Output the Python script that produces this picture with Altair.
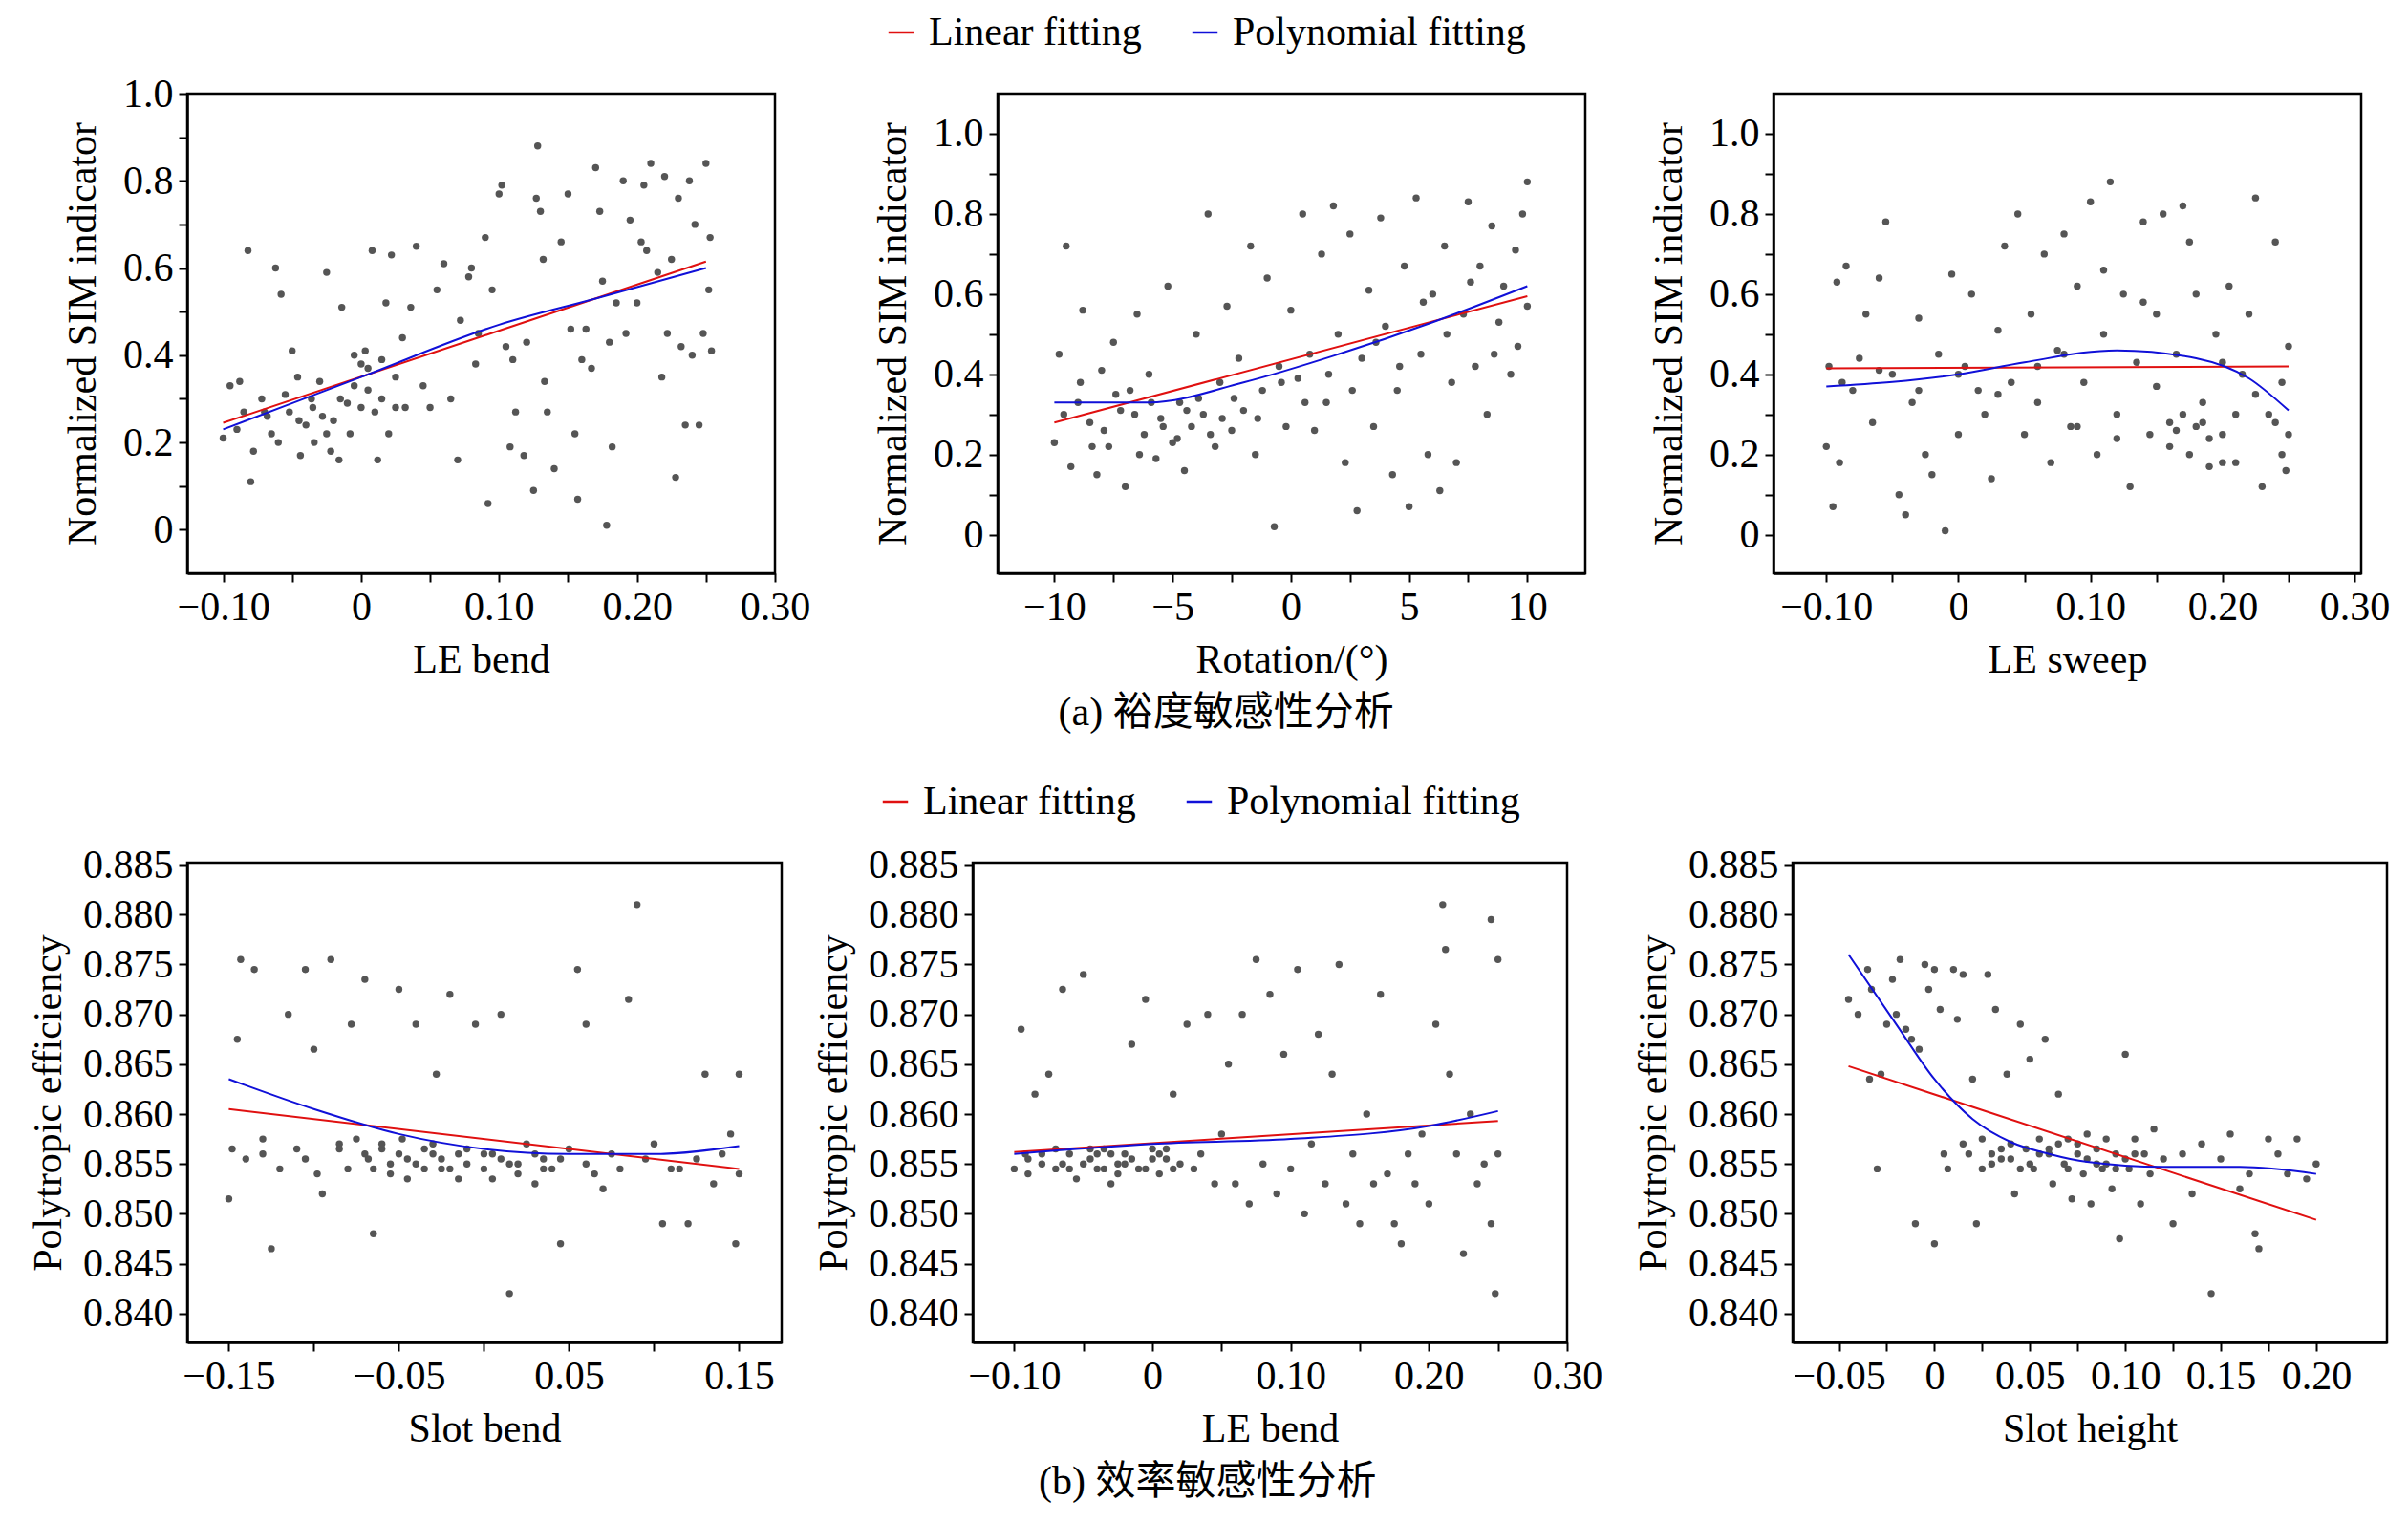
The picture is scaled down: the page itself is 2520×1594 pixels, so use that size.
import altair as alt
import pandas as pd

# ---------- data ----------
a1_pts = [(-0.10,0.21),(-0.095,0.33),(-0.09,0.23),(-0.088,0.34),(-0.082,0.64),(-0.08,0.11),(-0.078,0.18),(-0.072,0.30),(-0.068,0.26),(-0.062,0.60),(-0.06,0.20),(-0.058,0.54),(-0.052,0.27),(-0.05,0.41),(-0.046,0.35),(-0.044,0.17),(-0.04,0.24),(-0.036,0.30),(-0.034,0.20),(-0.03,0.34),(-0.028,0.26),(-0.025,0.59),(-0.022,0.18),(-0.02,0.25),(-0.016,0.16),(-0.014,0.51),(-0.01,0.29),(-0.008,0.22),(-0.005,0.40),(0,0.38),(0,0.28),(0.003,0.41),(0.005,0.32),(0.008,0.64),(0.01,0.27),(0.012,0.16),(0.015,0.39),(0.018,0.52),(0.02,0.22),(0.022,0.63),(0.025,0.35),(0.03,0.44),(0.032,0.28),(0.036,0.51),(0.04,0.65),(0.045,0.33),(0.05,0.28),(0.055,0.55),(0.06,0.61),(0.065,0.30),(0.07,0.16),(0.072,0.48),(0.078,0.58),(0.08,0.60),(0.083,0.38),(0.085,0.45),(0.09,0.67),(0.092,0.06),(0.095,0.55),(0.10,0.77),(0.102,0.79),(0.105,0.42),(0.108,0.19),(0.11,0.39),(0.112,0.27),(0.118,0.17),(0.12,0.43),(0.125,0.09),(0.127,0.76),(0.128,0.88),(0.13,0.73),(0.132,0.62),(0.133,0.34),(0.135,0.27),(0.14,0.14),(0.145,0.66),(0.15,0.77),(0.152,0.46),(0.155,0.22),(0.157,0.07),(0.16,0.39),(0.163,0.46),(0.167,0.37),(0.17,0.83),(0.173,0.73),(0.175,0.57),(0.178,0.01),(0.18,0.43),(0.182,0.19),(0.185,0.52),(0.19,0.80),(0.192,0.45),(0.195,0.71),(0.2,0.52),(0.203,0.66),(0.205,0.79),(0.207,0.64),(0.21,0.84),(0.215,0.59),(0.218,0.35),(0.22,0.81),(0.222,0.45),(0.225,0.62),(0.228,0.12),(0.23,0.76),(0.232,0.42),(0.235,0.24),(0.238,0.80),(0.24,0.40),(0.242,0.70),(0.245,0.24),(0.248,0.45),(0.25,0.84),(0.252,0.55),(0.253,0.67),(0.254,0.41),
(-0.07,0.27),(-0.055,0.31),(-0.045,0.25),(-0.035,0.28),(-0.025,0.22),(-0.015,0.30),(-0.005,0.33),(0.005,0.37),(0.015,0.30),(0.025,0.28),(-0.085,0.27),(-0.065,0.22)]
a1_lin = [(-0.10,0.245),(0.25,0.615)]
a1_poly = [(-0.10,0.23),(0.0,0.35),(0.10,0.47),(0.17,0.53),(0.25,0.60)]

a2_pts = [(-10,0.23),(-9.8,0.45),(-9.5,0.72),(-9.3,0.17),(-9,0.33),(-8.8,0.56),(-8.5,0.28),(-8.2,0.15),(-8,0.41),(-7.7,0.22),(-7.5,0.48),(-7.2,0.31),(-7,0.12),(-6.8,0.36),(-6.5,0.55),(-6.2,0.25),(-6,0.40),(-5.7,0.19),(-5.5,0.29),(-5.2,0.62),(-5,0.23),(-4.7,0.33),(-4.5,0.16),(-4.2,0.27),(-4,0.50),(-3.7,0.30),(-3.5,0.80),(-3.2,0.22),(-3,0.38),(-2.7,0.57),(-2.5,0.26),(-2.2,0.44),(-2,0.31),(-1.7,0.72),(-1.5,0.20),(-1.2,0.36),(-1,0.64),(-0.7,0.02),(-0.5,0.42),(-0.2,0.27),(0,0.56),(0.3,0.39),(0.5,0.80),(0.8,0.45),(1,0.26),(1.3,0.70),(1.5,0.33),(1.8,0.82),(2,0.50),(2.3,0.18),(2.5,0.75),(2.8,0.06),(3,0.44),(3.3,0.61),(3.5,0.27),(3.8,0.79),(4,0.52),(4.3,0.15),(4.5,0.36),(4.8,0.67),(5,0.07),(5.3,0.84),(5.5,0.45),(5.8,0.20),(6,0.60),(6.3,0.11),(6.5,0.72),(6.8,0.38),(7,0.18),(7.3,0.55),(7.5,0.83),(7.8,0.42),(8,0.67),(8.3,0.30),(8.5,0.77),(8.8,0.53),(9,0.62),(9.3,0.40),(9.5,0.71),(9.8,0.80),(10,0.57),(10,0.88),(9.6,0.47),(-6.6,0.30),(-5.9,0.33),(-4.8,0.24),(-3.9,0.34),(-2.9,0.29),(-8.9,0.38),(-7.9,0.26),(-9.6,0.30),(-8.4,0.22),(-7.4,0.35),(-6.4,0.20),(-5.4,0.27),(-4.4,0.31),(-3.4,0.25),(-2.4,0.34),(-1.4,0.29),(-0.4,0.38),(0.6,0.33),(1.6,0.40),(2.6,0.36),(3.6,0.48),(4.6,0.42),(5.6,0.58),(6.6,0.50),(7.6,0.63),(8.6,0.45)]
a2_lin = [(-10,0.28),(10,0.595)]
a2_poly = [(-10,0.33),(-6,0.33),(-2,0.38),(2,0.45),(6,0.53),(10,0.62)]

a3_pts = [(-0.10,0.22),(-0.098,0.42),(-0.095,0.07),(-0.092,0.63),(-0.09,0.18),(-0.085,0.67),(-0.08,0.36),(-0.075,0.44),(-0.07,0.55),(-0.065,0.28),(-0.06,0.64),(-0.055,0.78),(-0.05,0.40),(-0.045,0.10),(-0.04,0.05),(-0.035,0.33),(-0.03,0.54),(-0.025,0.20),(-0.02,0.15),(-0.015,0.45),(-0.01,0.01),(-0.005,0.65),(0,0.25),(0.005,0.42),(0.01,0.60),(0.015,0.36),(0.02,0.30),(0.025,0.14),(0.03,0.51),(0.035,0.72),(0.04,0.38),(0.045,0.80),(0.05,0.25),(0.055,0.55),(0.06,0.33),(0.065,0.70),(0.07,0.18),(0.075,0.46),(0.08,0.75),(0.085,0.27),(0.09,0.62),(0.095,0.38),(0.1,0.83),(0.105,0.20),(0.11,0.50),(0.115,0.88),(0.12,0.30),(0.125,0.60),(0.13,0.12),(0.135,0.43),(0.14,0.78),(0.145,0.25),(0.15,0.55),(0.155,0.80),(0.16,0.28),(0.165,0.45),(0.17,0.82),(0.175,0.20),(0.18,0.60),(0.185,0.33),(0.19,0.17),(0.195,0.50),(0.2,0.25),(0.205,0.62),(0.21,0.18),(0.215,0.40),(0.22,0.55),(0.225,0.84),(0.23,0.12),(0.235,0.30),(0.24,0.73),(0.245,0.20),(0.25,0.25),(0.25,0.47),(0.248,0.16),(0.18,0.27),(0.19,0.24),(0.2,0.18),(0.17,0.30),(0.16,0.22),
(-0.088,0.38),(-0.06,0.41),(-0.03,0.36),(0.0,0.40),(0.03,0.35),(0.06,0.42),(0.09,0.27),(0.12,0.24),(0.15,0.37),(0.165,0.26),(0.175,0.73),(0.185,0.28),(0.2,0.43),(0.21,0.30),(0.225,0.35),(0.24,0.28),(0.245,0.38),(0.14,0.58),(0.11,0.66),(0.08,0.45)]
a3_lin = [(-0.10,0.415),(0.25,0.42)]
a3_poly = [(-0.10,0.37),(0.0,0.40),(0.05,0.43),(0.12,0.46),(0.18,0.44),(0.22,0.39),(0.25,0.31)]

b1_pts = [(-0.15,0.8515),(-0.148,0.8565),(-0.145,0.8675),(-0.143,0.8755),(-0.14,0.8555),(-0.135,0.8745),(-0.13,0.8575),(-0.125,0.8465),(-0.12,0.8545),(-0.115,0.8700),(-0.11,0.8565),(-0.105,0.8745),(-0.1,0.8665),(-0.098,0.8540),(-0.095,0.8520),(-0.09,0.8755),(-0.085,0.8565),(-0.08,0.8545),(-0.078,0.8690),(-0.075,0.8575),(-0.07,0.8735),(-0.068,0.8555),(-0.065,0.8480),(-0.06,0.8565),(-0.055,0.8540),(-0.05,0.8725),(-0.048,0.8575),(-0.045,0.8555),(-0.04,0.8690),(-0.035,0.8545),(-0.03,0.8570),(-0.028,0.8640),(-0.025,0.8555),(-0.02,0.8720),(-0.015,0.8535),(-0.01,0.8565),(-0.005,0.8690),(0,0.8545),(0.005,0.8560),(0.01,0.8700),(0.015,0.8420),(0.02,0.8550),(0.025,0.8570),(0.03,0.8530),(0.035,0.8555),(0.04,0.8545),(0.045,0.8470),(0.05,0.8565),(0.055,0.8745),(0.06,0.8690),(0.065,0.8540),(0.07,0.8525),(0.075,0.8560),(0.08,0.8545),(0.085,0.8715),(0.09,0.8810),(0.095,0.8555),(0.1,0.8570),(0.105,0.8490),(0.11,0.8545),(0.115,0.8545),(0.12,0.8490),(0.125,0.8555),(0.13,0.8640),(0.135,0.8530),(0.14,0.8560),(0.145,0.8580),(0.148,0.8470),(0.15,0.8540),(0.15,0.8640),
(-0.06,0.8570),(-0.05,0.8560),(-0.04,0.8550),(-0.03,0.8560),(-0.02,0.8545),(-0.01,0.8550),(0.01,0.8555),(0.02,0.8540),(0.03,0.8560),(-0.07,0.8560),(-0.045,0.8535),(-0.035,0.8565),(-0.025,0.8545),(0.0,0.8560),(-0.055,0.8550),(-0.015,0.8560),(0.005,0.8535),(0.015,0.8550),(0.035,0.8545),(0.045,0.8555),(0.06,0.8550),(-0.065,0.8545),(-0.085,0.8570),(-0.105,0.8555),(-0.13,0.8560)]
b1_lin = [(-0.15,0.8605),(0.15,0.8545)]
b1_poly = [(-0.15,0.8635),(-0.10,0.8605),(-0.05,0.8580),(0.0,0.8565),(0.05,0.8560),(0.10,0.8560),(0.15,0.8568)]

b2_pts = [(-0.1,0.8545),(-0.095,0.8685),(-0.092,0.8560),(-0.09,0.8540),(-0.085,0.8620),(-0.08,0.8550),(-0.075,0.8640),(-0.07,0.8545),(-0.065,0.8725),(-0.06,0.8560),(-0.055,0.8535),(-0.05,0.8740),(-0.045,0.8555),(-0.04,0.8545),(-0.035,0.8565),(-0.03,0.8530),(-0.025,0.8550),(-0.02,0.8560),(-0.015,0.8670),(-0.01,0.8545),(-0.005,0.8715),(0,0.8555),(0.005,0.8540),(0.01,0.8565),(0.015,0.8620),(0.02,0.8550),(0.025,0.8690),(0.03,0.8545),(0.035,0.8560),(0.04,0.8700),(0.045,0.8530),(0.05,0.8580),(0.055,0.8650),(0.06,0.8530),(0.065,0.8700),(0.07,0.8510),(0.075,0.8755),(0.08,0.8550),(0.085,0.8720),(0.09,0.8520),(0.095,0.8660),(0.1,0.8545),(0.105,0.8745),(0.11,0.8500),(0.115,0.8570),(0.12,0.8680),(0.125,0.8530),(0.13,0.8640),(0.135,0.8750),(0.14,0.8510),(0.145,0.8560),(0.15,0.8490),(0.155,0.8600),(0.16,0.8530),(0.165,0.8720),(0.17,0.8540),(0.175,0.8490),(0.18,0.8470),(0.185,0.8560),(0.19,0.8530),(0.195,0.8580),(0.2,0.8510),(0.205,0.8690),(0.21,0.8810),(0.212,0.8765),(0.215,0.8640),(0.22,0.8560),(0.225,0.8460),(0.23,0.8600),(0.235,0.8530),(0.24,0.8550),(0.245,0.8795),(0.248,0.8420),(0.25,0.8755),(0.25,0.8560),(0.245,0.8490),
(-0.08,0.8560),(-0.06,0.8545),(-0.04,0.8560),(-0.02,0.8550),(0,0.8565),(0.01,0.8555),(-0.03,0.8560),(-0.05,0.8550),(-0.09,0.8555),(-0.07,0.8565),(-0.035,0.8545),(-0.015,0.8555),(-0.005,0.8545),(0.005,0.8560),(0.015,0.8545),(-0.045,0.8565),(-0.025,0.8540),(-0.065,0.8550)]
b2_lin = [(-0.10,0.8562),(0.25,0.8593)]
b2_poly = [(-0.10,0.8560),(0.0,0.8570),(0.10,0.8575),(0.20,0.8588),(0.25,0.8603)]

b3_pts = [(-0.045,0.8715),(-0.04,0.8700),(-0.035,0.8745),(-0.034,0.8635),(-0.033,0.8725),(-0.03,0.8545),(-0.028,0.8640),(-0.025,0.8690),(-0.022,0.8735),(-0.02,0.8700),(-0.018,0.8755),(-0.015,0.8685),(-0.012,0.8675),(-0.01,0.8490),(-0.008,0.8665),(-0.005,0.8750),(-0.003,0.8725),(0,0.8745),(0,0.8470),(0.003,0.8705),(0.005,0.8560),(0.007,0.8545),(0.01,0.8745),(0.012,0.8695),(0.015,0.8740),(0.018,0.8560),(0.02,0.8635),(0.022,0.8490),(0.025,0.8575),(0.028,0.8740),(0.03,0.8550),(0.032,0.8705),(0.035,0.8565),(0.038,0.8640),(0.04,0.8555),(0.042,0.8520),(0.045,0.8690),(0.048,0.8565),(0.05,0.8655),(0.052,0.8545),(0.055,0.8575),(0.058,0.8675),(0.06,0.8560),(0.062,0.8530),(0.065,0.8620),(0.068,0.8550),(0.07,0.8575),(0.072,0.8515),(0.075,0.8560),(0.078,0.8540),(0.08,0.8580),(0.082,0.8510),(0.085,0.8565),(0.088,0.8545),(0.09,0.8575),(0.093,0.8525),(0.095,0.8560),(0.097,0.8475),(0.1,0.8660),(0.102,0.8545),(0.105,0.8575),(0.108,0.8510),(0.11,0.8560),(0.113,0.8540),(0.115,0.8585),(0.12,0.8555),(0.125,0.8490),(0.13,0.8560),(0.135,0.8520),(0.14,0.8570),(0.145,0.8420),(0.15,0.8555),(0.155,0.8580),(0.16,0.8525),(0.165,0.8540),(0.168,0.8480),(0.17,0.8465),(0.175,0.8575),(0.18,0.8560),(0.185,0.8540),(0.19,0.8575),(0.195,0.8535),(0.2,0.8550),
(0.03,0.8560),(0.04,0.8570),(0.05,0.8550),(0.06,0.8565),(0.07,0.8545),(0.08,0.8555),(0.09,0.8550),(0.1,0.8555),(0.045,0.8545),(0.065,0.8570),(0.015,0.8570),(0.025,0.8545),(0.035,0.8555),(0.055,0.8560),(0.075,0.8570),(0.085,0.8550),(0.095,0.8545),(0.105,0.8560)]
b3_lin = [(-0.045,0.8648),(0.20,0.8494)]
b3_poly = [(-0.045,0.8760),(-0.02,0.8690),(0.0,0.8635),(0.02,0.8595),(0.04,0.8572),(0.06,0.8560),(0.08,0.8552),(0.12,0.8547),(0.16,0.8547),(0.20,0.8540)]

SERIES = ["Linear fitting", "Polynomial fitting"]
FONT = "Liberation Serif"
FS = 42
H = 502


def ticks(lo, hi, step):
    n = int(round((hi - lo) / step))
    return [round(lo + i * step, 6) for i in range(n + 1)]


def lab_expr(k, m, off, dec):
    return (f"((round(datum.value*{k})+{off})%{m}+{m})%{m} == 0 ? "
            f"(round(datum.value*{k}) == 0 ? '0' : replace(format(datum.value, '.{dec}f'), '-', '\u2212')) : ''")


def panel(pts, lin, poly, w, xdom, xt, xk, xm, xoff, xdec, xtitle, ydom, ya, legend):
    dp = pd.DataFrame(pts, columns=["x", "y"])
    dl = pd.DataFrame(
        [(x, y, SERIES[0], i) for i, (x, y) in enumerate(lin)] +
        [(x, y, SERIES[1], i) for i, (x, y) in enumerate(poly)],
        columns=["x", "y", "s", "o"])
    xs = alt.Scale(domain=xdom, nice=False, zero=False)
    ys = alt.Scale(domain=ydom, nice=False, zero=False)
    xa = alt.Axis(values=xt, labelExpr=lab_expr(xk, xm, xoff, xdec), title=xtitle, grid=False)
    sc = alt.Chart(dp).mark_circle(color="#555555", opacity=1, size=55).encode(
        x=alt.X("x:Q", scale=xs, axis=xa), y=alt.Y("y:Q", scale=ys, axis=ya))
    lg = alt.Legend(title=None, orient="none", legendX=legend[0], legendY=legend[1],
                    direction="horizontal", symbolType="stroke", symbolSize=700,
                    symbolStrokeWidth=2.5, labelFontSize=FS, labelFont=FONT, labelLimit=0,
                    columnPadding=45, labelOffset=8)
    ln = alt.Chart(dl).mark_line(strokeWidth=2, interpolate="monotone").encode(
        x=alt.X("x:Q", scale=xs), y=alt.Y("y:Q", scale=ys),
        color=alt.Color("s:N", scale=alt.Scale(domain=SERIES, range=["#e01010", "#1010d8"]), legend=lg),
        order="o:Q", detail="s:N")
    return alt.layer(sc, ln).properties(width=w, height=H)


ya_t = ticks(0, 1.0, 0.1)
YA = alt.Axis(values=ya_t, labelExpr=lab_expr(10, 2, 0, 1), title="Normalized SIM indicator",
              grid=False, titlePadding=20)
yb_major = [0.840, 0.845, 0.850, 0.855, 0.860, 0.865, 0.870, 0.875, 0.880, 0.885]
YB = alt.Axis(values=yb_major, format=".3f", title="Polytropic efficiency", grid=False)
WA, WB = 615, 622
LGA = (726, -85)
LGB = (720, -85)

p1 = panel(a1_pts, a1_lin, a1_poly, WA, [-0.126, 0.30], ticks(-0.1, 0.3, 0.025), 40, 4, 0, 2, "LE bend",
           [-0.1, 1.0], YA, LGA)
p2 = panel(a2_pts, a2_lin, a2_poly, WA, [-12.4, 12.45], ticks(-10, 10, 2.5), 2, 10, 0, 0, "Rotation/(°)",
           [-0.096, 1.1], YA, LGA)
p3 = panel(a3_pts, a3_lin, a3_poly, WA, [-0.14, 0.305], ticks(-0.1, 0.3, 0.025), 40, 4, 0, 2, "LE sweep",
           [-0.096, 1.1], YA, LGA)
q1 = panel(b1_pts, b1_lin, b1_poly, WB, [-0.1744, 0.175], ticks(-0.15, 0.15, 0.05), 20, 2, 1, 2, "Slot bend",
           [0.8371, 0.8852], YB, LGB)
q2 = panel(b2_pts, b2_lin, b2_poly, WB, [-0.13, 0.30], ticks(-0.1, 0.3, 0.025), 40, 4, 0, 2, "LE bend",
           [0.8371, 0.8852], YB, LGB)
q3 = panel(b3_pts, b3_lin, b3_poly, WB, [-0.0743, 0.2371], ticks(-0.05, 0.2, 0.025), 40, 2, 0, 2, "Slot height",
           [0.8371, 0.8852], YB, LGB)

CJK = "Liberation Serif, Noto Sans CJK SC"
row1 = alt.hconcat(p1, p2, p3, spacing=63).properties(
    title=alt.TitleParams("(a) 裕度敏感性分析", orient="bottom", anchor="middle", font=CJK, fontSize=FS,
                          fontWeight="normal", offset=14))
row2 = alt.hconcat(q1, q2, q3, spacing=30).properties(
    title=alt.TitleParams("(b) 效率敏感性分析", orient="bottom", anchor="middle", font=CJK, fontSize=FS,
                          fontWeight="normal", offset=14))

chart = alt.vconcat(row1, row2, spacing=50).resolve_scale(color="independent").properties(
    padding={"left": 20, "top": 5, "right": 5, "bottom": 5}
).configure(
    font=FONT, background="white"
).configure_view(stroke="black", strokeWidth=2.5).configure_axis(
    labelFont=FONT, labelFontSize=FS, labelColor="black", titleFont=FONT, titleFontSize=FS,
    titleFontWeight="normal", titleColor="black", domainColor="black", domainWidth=2.5,
    tickColor="black", tickWidth=2, tickSize=9, labelPadding=6, titlePadding=14, labelFlush=False,
    labelOverlap=False
)

chart.save("out.html", embed_options={"renderer": "svg", "actions": False})
